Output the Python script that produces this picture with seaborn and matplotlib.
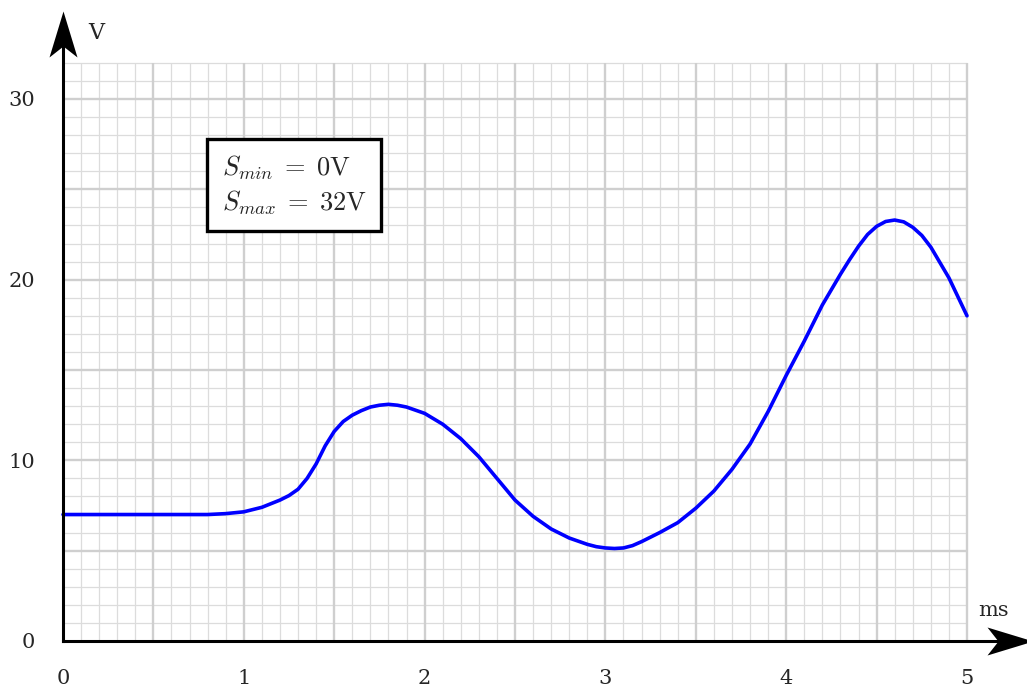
import numpy as np
import pandas as pd
import matplotlib
matplotlib.use("Agg")
import matplotlib.pyplot as plt
from matplotlib.path import Path
import seaborn as sns

# ---- data ----
time_ms = [0.0, 0.5, 0.8, 0.9, 1.0, 1.1, 1.2, 1.25, 1.3, 1.35, 1.4, 1.45, 1.5, 1.55, 1.6,
           1.65, 1.7, 1.75, 1.8, 1.85, 1.9, 2.0, 2.1, 2.2, 2.3, 2.4, 2.5, 2.6, 2.7, 2.8,
           2.9, 2.95, 3.0, 3.05, 3.1, 3.15, 3.2, 3.3, 3.4, 3.5, 3.6, 3.7, 3.8, 3.9, 4.0,
           4.1, 4.2, 4.3, 4.35, 4.4, 4.45, 4.5, 4.55, 4.6, 4.65, 4.7, 4.75, 4.8, 4.9, 5.0]
voltage = [7.0, 7.0, 7.0, 7.05, 7.15, 7.4, 7.8, 8.05, 8.4, 9.0, 9.8, 10.8, 11.6, 12.15, 12.5,
           12.75, 12.95, 13.05, 13.1, 13.05, 12.95, 12.6, 12.0, 11.2, 10.2, 9.0, 7.8, 6.9, 6.2, 5.7,
           5.35, 5.22, 5.15, 5.12, 5.15, 5.28, 5.5, 6.0, 6.55, 7.35, 8.3, 9.5, 10.9, 12.7, 14.7,
           16.6, 18.6, 20.3, 21.1, 21.85, 22.5, 22.95, 23.22, 23.3, 23.2, 22.9, 22.45, 21.8, 20.1, 18.0]
x_ticks = [0, 1, 2, 3, 4, 5]
y_ticks = [0, 10, 20, 30]
x_label = "ms"
y_label = "V"
info_text = "$S_{min} \\;=\\; 0\\mathrm{V}$\n$S_{max} \\;=\\; 32\\mathrm{V}$"

df = pd.DataFrame({"t": time_ms, "v": voltage})

sns.set_style("white")
plt.rcParams["font.family"] = ["DejaVu Serif"]
plt.rcParams["mathtext.fontset"] = "cm"

W, H = 1027, 689
fig = plt.figure(figsize=(W / 100, H / 100), dpi=100)
ax = fig.add_axes([0, 0, 1, 1])

# pixel geometry of the reference
px_x0, px_x5 = 63, 967
px_y0, px_y30 = 641, 99
sx = (px_x5 - px_x0) / 5.0
sy = (px_y0 - px_y30) / 30.0
ax.set_xlim(-px_x0 / sx, (W - px_x0) / sx)
ax.set_ylim(-(H - px_y0) / sy, px_y0 / sy)

XMAX, YMAX = 5.0, 32.0
# grid paper
minor_x = np.round(np.arange(0, XMAX + 1e-9, 0.1), 3)
minor_y = np.arange(0, YMAX + 1e-9, 1.0)
mx = [v for v in minor_x if abs(v / 0.5 - round(v / 0.5)) > 1e-6]
my = [v for v in minor_y if v % 5 != 0]
ax.vlines(mx, 0, YMAX, color="#dcdcdc", lw=0.9, zorder=1)
ax.hlines(my, 0, XMAX, color="#dcdcdc", lw=0.9, zorder=1)
ax.vlines(np.arange(0.5, XMAX + 1e-9, 0.5), 0, YMAX, color="#cfcfcf", lw=1.7, zorder=1.1)
ax.hlines(np.arange(5, YMAX + 1e-9, 5), 0, XMAX, color="#cfcfcf", lw=1.7, zorder=1.1)

# curve
sns.lineplot(data=df, x="t", y="v", ax=ax, color="#0000ff", lw=2.6, zorder=5,
             estimator=None, sort=False)
ax.lines[-1].set_solid_joinstyle("round")
ax.set_xlabel("")
ax.set_ylabel("")

# axes through the origin
for s in ["top", "right"]:
    ax.spines[s].set_visible(False)
ax.spines["left"].set_position(("data", 0))
ax.spines["bottom"].set_position(("data", 0))
ax.spines["left"].set_bounds(0, (px_y0 - 40) / sy)
ax.spines["bottom"].set_bounds(0, (1000 - px_x0) / sx)
for s in ["left", "bottom"]:
    ax.spines[s].set_linewidth(2.2)
    ax.spines[s].set_color("black")
    ax.spines[s].set_zorder(6)

ax.set_xticks(x_ticks)
ax.set_yticks(y_ticks)
ax.set_xticklabels([str(v) for v in x_ticks])
ax.set_yticklabels([str(v) for v in y_ticks])
ax.tick_params(axis="both", direction="out", length=13, width=2.2, color="black",
               labelsize=15, pad=7)
ax.tick_params(axis="x", pad=7)

# stealth arrow heads as custom markers (tip at origin)
up = Path([(0, 0), (-14, -46), (0, -35), (14, -46), (0, 0)],
          [Path.MOVETO, Path.LINETO, Path.LINETO, Path.LINETO, Path.CLOSEPOLY])
right = Path([(0, 0), (-46, 14), (-35, 0), (-46, -14), (0, 0)],
             [Path.MOVETO, Path.LINETO, Path.LINETO, Path.LINETO, Path.CLOSEPOLY])
msize = 2 * 46 * 0.72
ax.plot([0], [(px_y0 - 11) / sy], marker=up, markersize=msize, color="black",
        markeredgewidth=0, clip_on=False, zorder=7)
ax.plot([(1033 - px_x0) / sx], [0], marker=right, markersize=msize, color="black",
        markeredgewidth=0, clip_on=False, zorder=7)

ax.text((88 - px_x0) / sx, (px_y0 - 33) / sy, y_label, fontsize=16,
        ha="left", va="center")
ax.text((978 - px_x0) / sx, (px_y0 - 611) / sy, x_label, fontsize=15,
        ha="left", va="center")

ax.text((222 - px_x0) / sx, (px_y0 - 185) / sy, info_text, fontsize=19,
        ha="left", va="center", linespacing=1.3, zorder=8,
        bbox=dict(boxstyle="square,pad=0.55", fc="white", ec="black", lw=2.4))

fig.savefig("out.png", dpi=100)
